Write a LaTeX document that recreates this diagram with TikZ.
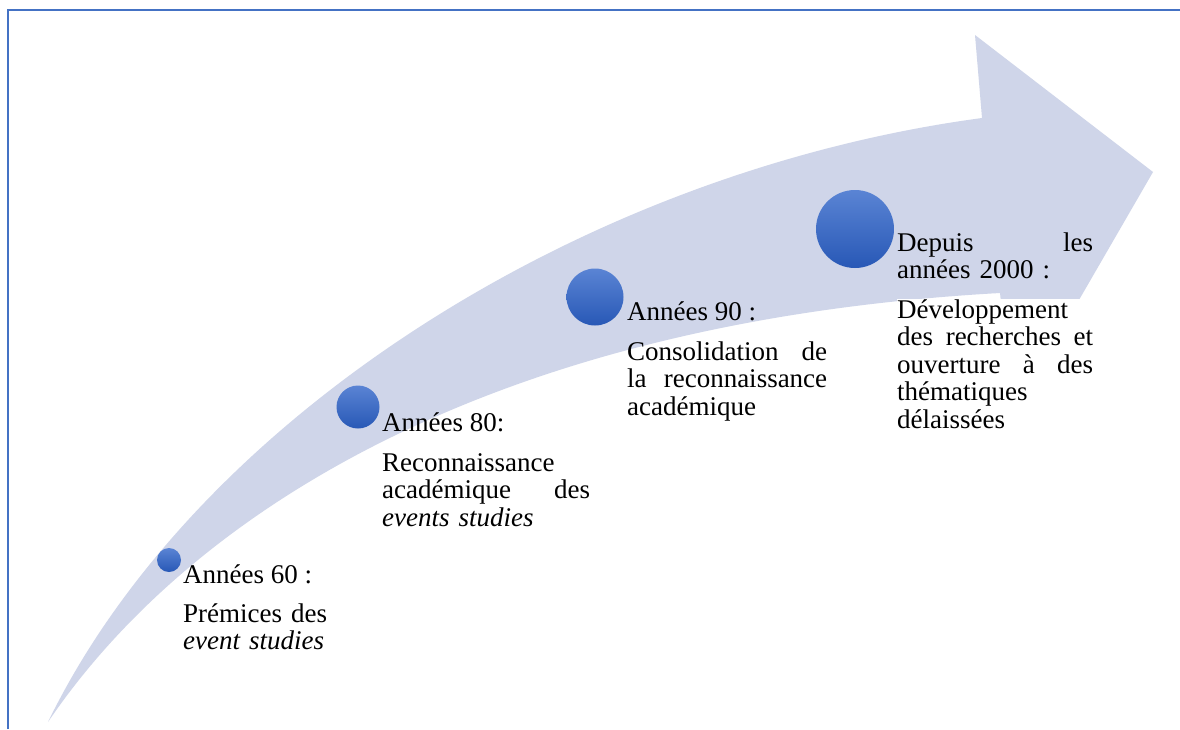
\documentclass[tikz,border=0pt]{standalone}
\usepackage{fontspec}
\setmainfont{Liberation Serif}

\definecolor{arrowfill}{RGB}{207,213,233}
\definecolor{dottop}{RGB}{90,132,212}
\definecolor{dotbot}{RGB}{40,88,182}
\definecolor{framecol}{RGB}{68,114,196}

\begin{document}
\begin{tikzpicture}[x=1pt,y=-1pt,
	yeardot/.style={circle,inner sep=0pt,top color=dottop,bottom color=dotbot},
	yeartext/.style={anchor=base west,inner sep=0pt,align=left,font=\fontsize{27}{27.5}\selectfont}]
		
		\fill[white] (0,0) rectangle (1180,729);
		\useasboundingbox (0,0) rectangle (1180,729);
		
		\draw[framecol,line width=2pt] (8,729) -- (8,10) -- (1180,10);
		
		
		\fill[arrowfill] (48,722) .. controls (195,420) and (580,172) .. (982,118)
			-- (975,35) -- (1153,172) -- (1013,414) -- (1000,293)
			.. controls (480,322) and (185,520) .. (48,722) -- cycle;
		
		
		\node[yeardot,minimum size=24pt] (c60) at (169,560) {};
		\node[yeardot,minimum size=43pt] (c80) at (358,407) {};
		\node[yeardot,minimum size=57pt] (c90) at (595,297) {};
		\node[yeardot,minimum size=78pt] (c2000) at (855,229) {};
		
		\node[yeartext] (h60) at (183,583) {Années 60 :};
		\node[yeartext,text width=190pt] (t60) at (183,622) {Prémices des\\ \textit{event studies}};
		
		\node[yeartext] (h80) at (382,431) {Années 80:};
		\node[yeartext,text width=208pt] (t80) at (382,471) {Reconnaissance\\ académique \hfill des\\ \textit{events studies}};
		
		\node[yeartext] (h90) at (627,320) {Années 90 :};
		\node[yeartext,text width=200pt] (t90) at (627,360) {Consolidation \hfill de\\ la \hfill reconnaissance\\ académique};
		
		\node[yeartext,text width=196pt] (h2000) at (897,251) {Depuis \hfill les\\ années 2000 :};
		\node[yeartext,text width=196pt,fill=white] (t2000) at (897,318) {Développement\\ des \hfill recherches \hfill et\\ ouverture \hfill à \hfill des\\ thématiques\\ délaissées};
		
	\end{tikzpicture}
\end{document}
